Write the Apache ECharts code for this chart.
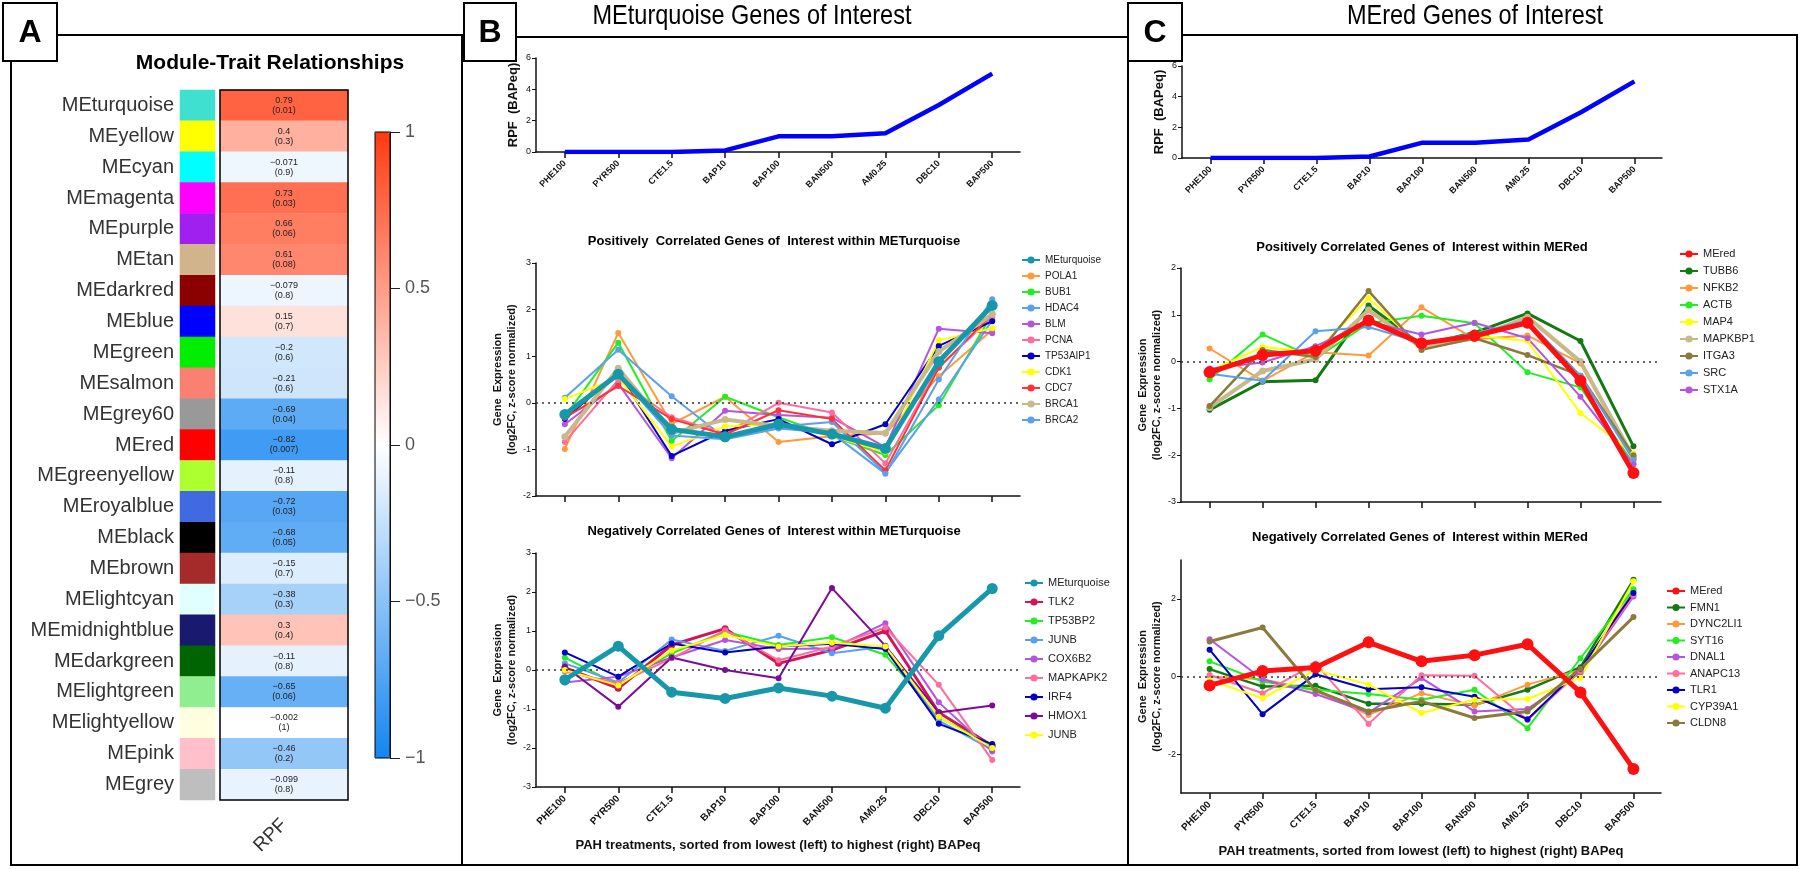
<!DOCTYPE html>
<html><head><meta charset="utf-8">
<script src="https://cdn.jsdelivr.net/npm/echarts@6/dist/echarts.min.js"></script>
<style>html,body{margin:0;padding:0;background:#fff;}#c{width:1800px;height:869px;}</style>
</head><body><div id="c"></div>
<script>
// ---------- DATA ----------
const treatments = ['PHE100','PYR500','CTE1.5','BAP10','BAP100','BAN500','AM0.25','DBC10','BAP500'];
const rpfBAPeq = [0, 0, 0, 0.1, 1, 1, 1.2, 3, 5];

const modules = ['MEturquoise','MEyellow','MEcyan','MEmagenta','MEpurple','MEtan','MEdarkred','MEblue','MEgreen','MEsalmon','MEgrey60','MEred','MEgreenyellow','MEroyalblue','MEblack','MEbrown','MElightcyan','MEmidnightblue','MEdarkgreen','MElightgreen','MElightyellow','MEpink','MEgrey'];
const moduleColors = ['#40E0D0','#FFFF00','#00FFFF','#FF00FF','#A020F0','#D2B48C','#8B0000','#0000FF','#00EE00','#FA8072','#999999','#FF0000','#ADFF2F','#4169E1','#000000','#A52A2A','#E0FFFF','#191970','#006400','#90EE90','#FFFFE0','#FFC0CB','#BEBEBE'];
const moduleCorr = [0.79,0.4,-0.071,0.73,0.66,0.61,-0.079,0.15,-0.2,-0.21,-0.69,-0.82,-0.11,-0.72,-0.68,-0.15,-0.38,0.3,-0.11,-0.65,-0.002,-0.46,-0.099];
const modulePval = ['0.01','0.3','0.9','0.03','0.06','0.08','0.8','0.7','0.6','0.6','0.04','0.007','0.8','0.03','0.05','0.7','0.3','0.4','0.8','0.06','1','0.2','0.8'];
const colorbarTicks = [-1, -0.5, 0, 0.5, 1];

// MEturquoise positively correlated genes
const meTurquoise = [-0.25, 0.61, -0.57, -0.73, -0.46, -0.67, -0.98, 0.88, 2.09];
const POLA1    = [-0.99, 1.50, -0.45, 0.13, -0.84, -0.72, -0.66, 0.57, 1.56];
const BUB1     = [-0.30, 1.29, -0.82, 0.13, -0.31, -0.72, -1.12, -0.05, 1.91];
const HDAC4    = [0.11, 1.14, 0.14, -0.76, -0.51, -0.41, -1.50, 0.07, 1.77];
const BLM      = [-0.46, 0.41, -1.19, -0.17, -0.26, -0.32, -0.95, 1.59, 1.49];
const PCNA     = [-0.84, 0.49, -0.31, -0.66, 0.00, -0.21, -1.30, 0.77, 1.84];
const TP53AIP1 = [-0.35, 0.65, -1.14, -0.60, -0.35, -0.89, -0.46, 1.22, 1.75];
const CDK1     = [0.08, 0.55, -0.94, -0.51, -0.45, -0.72, -1.05, 1.34, 1.60];
const CDC7     = [-0.32, 0.36, -0.35, -0.68, -0.16, -0.35, -1.45, 0.75, 1.90];
const BRCA1    = [-0.73, 0.74, -0.65, -0.36, -0.50, -0.60, -0.65, 1.10, 1.90];
const BRCA2    = [-0.28, 0.60, -0.70, -0.78, -0.55, -0.65, -1.52, 0.50, 2.22];

// MEturquoise negatively correlated genes
const TLK2     = [0.06, -0.47, 0.64, 1.06, 0.17, 0.51, 1.00, -1.09, -1.94];
const TP53BP2  = [0.32, -0.38, 0.43, 0.98, 0.64, 0.84, 0.39, -1.21, -1.95];
const JUNB_a   = [0.17, -0.32, 0.78, 0.49, 0.88, 0.43, 0.60, -1.30, -2.05];
const COX6B2   = [-0.32, -0.17, 0.32, 0.77, 0.54, 0.55, 1.20, -0.83, -2.09];
const MAPKAPK2 = [-0.04, -0.34, 0.30, 1.02, 0.25, 0.60, 1.09, -0.38, -2.31];
const IRF4     = [0.45, -0.17, 0.68, 0.45, 0.60, 0.67, 0.54, -1.38, -1.90];
const HMOX1    = [0.09, -0.94, 0.32, 0.00, -0.21, 2.10, 0.62, -1.09, -0.91];
const JUNB_b   = [0.00, -0.40, 0.50, 0.90, 0.60, 0.70, 0.60, -1.20, -2.00];

// MEred positively correlated genes
const meRed    = [-0.23, 0.14, 0.23, 0.88, 0.39, 0.55, 0.83, -0.41, -2.38];
const TUBB6    = [-1.03, -0.43, -0.40, 1.20, 0.35, 0.62, 1.03, 0.44, -1.81];
const NFKB2    = [0.28, -0.41, 0.20, 0.13, 1.16, 0.48, 0.56, -0.04, -2.10];
const ACTB     = [-0.38, 0.58, 0.07, 0.82, 0.98, 0.82, -0.23, -0.55, -2.18];
const MAP4     = [-0.20, 0.31, 0.20, 1.36, 0.30, 0.55, 0.44, -1.10, -1.97];
const MAPKBP1  = [-0.98, -0.20, 0.05, 1.10, 0.30, 0.50, 0.95, 0.00, -2.05];
const ITGA3    = [-0.95, 0.25, 0.10, 1.51, 0.25, 0.50, 0.14, -0.30, -2.00];
const SRC      = [-0.26, -0.41, 0.65, 0.74, 0.40, 0.60, 0.88, -0.30, -2.10];
const STX1A    = [-0.15, -0.02, 0.33, 0.85, 0.58, 0.83, 0.50, -0.75, -2.20];

// MEred negatively correlated genes
const FMN1     = [0.19, -0.26, -0.24, -0.70, -0.70, -0.73, -0.34, 0.24, 2.49];
const DYNC2LI1 = [0.00, -0.07, -0.36, -0.99, -0.43, -0.75, -0.21, 0.17, 2.20];
const SYT16    = [0.39, -0.13, -0.34, -0.45, -0.60, -0.34, -1.33, 0.47, 2.25];
const DNAL1    = [0.96, -0.07, -0.45, -0.93, -0.04, -0.90, -0.84, 0.10, 2.06];
const ANAPC13  = [0.04, -0.43, 0.33, -1.22, 0.03, 0.02, -1.12, 0.15, 2.10];
const TLR1     = [0.69, -0.97, 0.06, -0.33, -0.28, -0.52, -1.10, 0.20, 2.15];
const CYP39A1  = [-0.10, -0.56, 0.17, -0.21, -0.94, -0.60, -0.58, -0.03, 2.45];
const CLDN8    = [0.90, 1.26, -0.36, -0.90, -0.64, -1.07, -0.90, 0.20, 1.53];

// ---------- STYLE / BUILD ----------
const FONT = '"Liberation Sans", Arial, sans-serif';
const MINUS = '\u2212';
const fmt = v => (v < 0 ? MINUS : '') + String(Math.abs(v));
const XMIN = -0.54, XMAX = 8.52;
const idx = treatments.map((_, i) => i);
const C = {teal:'#1798AA', orange:'#FF9A3C', green:'#22EE22', lblue:'#5AA0F0', purple:'#B455E0', pink:'#FF6E9A', navy:'#0000C8', yellow:'#FFFF00', red:'#FF3333', tan:'#C8B98A', crimson:'#D4145A', dpurple:'#7B0C99', dgreen:'#137A13', olive:'#8C7A3C', mered:'#FF1010'};

const grids = [], xAxes = [], yAxes = [], series = [], legends = [], titles = [], graphics = [];

function axesFor(gi, o) {
  xAxes.push({
    gridIndex: gi, type: 'value', min: XMIN, max: XMAX, splitLine: {show: false},
    axisLine: {show: true, onZero: false, lineStyle: {color: '#111', width: 1.5}},
    axisTick: {show: true, customValues: idx, length: 6, lineStyle: {color: '#111', width: 1.5}},
    axisLabel: {show: !!o.xLabels, customValues: idx, formatter: v => treatments[Math.round(v)] || '', rotate: 45,
      fontSize: o.xFont || 9, fontWeight: 'bold', color: '#111', fontFamily: FONT, margin: 10},
    name: o.xName || '', nameLocation: 'middle', nameGap: o.xNameGap || 0,
    nameTextStyle: {fontSize: 13, fontWeight: 'bold', color: '#111', fontFamily: FONT}
  });
  yAxes.push({
    gridIndex: gi, type: 'value', min: o.ymin, max: o.ymax, interval: o.interval, splitLine: {show: false},
    axisLine: {show: true, onZero: false, lineStyle: {color: '#111', width: 1.5}},
    axisTick: {show: true, length: 4, lineStyle: {color: '#111', width: 1}, customValues: o.yTicks},
    axisLabel: {fontSize: 9, color: '#111', margin: 5, fontFamily: FONT, customValues: o.yTicks},
    name: o.yName, nameLocation: 'middle', nameRotate: 90, nameGap: o.yNameGap,
    nameTextStyle: {fontSize: o.yNameSize, fontWeight: 'bold', color: '#111', lineHeight: 14, fontFamily: FONT}
  });
}

function lineSeries(gi, name, data, color, width, size, z, extra) {
  const s = {
    type: 'line', name: name, xAxisIndex: gi, yAxisIndex: gi,
    data: data.map((v, i) => [i, v]),
    symbol: 'circle', symbolSize: size, showSymbol: true,
    lineStyle: {color: color, width: width}, itemStyle: {color: color},
    z: z, silent: true, animation: false, emphasis: {disabled: true}
  };
  return Object.assign(s, extra || {});
}
const zeroLine = {markLine: {silent: true, symbol: ['none', 'none'], label: {show: false}, animation: false,
  lineStyle: {type: [2, 4], color: '#333', width: 1.5}, data: [{yAxis: 0}]}};

// ---------- Panel A heatmap ----------
grids.push({left: 180, top: 90, width: 35, height: 710});              // 0 swatches
xAxes.push({gridIndex: 0, type: 'category', data: ['m'], show: false});
yAxes.push({gridIndex: 0, type: 'category', data: modules, inverse: true,
  axisLine: {show: false}, axisTick: {show: false},
  axisLabel: {fontSize: 20, color: '#333', margin: 6, fontFamily: FONT}});
series.push({type: 'heatmap', xAxisIndex: 0, yAxisIndex: 0, silent: true, animation: false,
  data: modules.map((m, i) => ({value: [0, i, 0], itemStyle: {color: moduleColors[i]}}))});

grids.push({left: 220, top: 90, width: 128, height: 710});             // 1 correlation
xAxes.push({gridIndex: 1, type: 'category', data: ['RPF'], axisLine: {show: false}, axisTick: {show: false},
  axisLabel: {rotate: 45, fontSize: 19, color: '#333', margin: 22, fontFamily: FONT}});
yAxes.push({gridIndex: 1, type: 'category', data: modules, inverse: true, show: false});
const heatIndex = series.length;
series.push({type: 'heatmap', xAxisIndex: 1, yAxisIndex: 1, silent: true, animation: false,
  data: moduleCorr.map((v, i) => [0, i, v]),
  label: {show: true, fontSize: 9, lineHeight: 10, color: '#222', fontFamily: FONT,
    formatter: p => fmt(moduleCorr[p.data[1]]) + '\n(' + modulePval[p.data[1]] + ')'}});

grids.push({left: 375, top: 132, width: 15, height: 626});             // 2 colorbar axis
xAxes.push({gridIndex: 2, type: 'category', data: ['c'], show: false});
yAxes.push({gridIndex: 2, type: 'value', position: 'right', min: -1, max: 1, interval: 0.5, splitLine: {show: false},
  axisLine: {show: true, lineStyle: {color: '#222', width: 1}},
  axisTick: {show: true, length: 10, lineStyle: {color: '#222', width: 1}},
  axisLabel: {fontSize: 18, color: '#555', margin: 15, fontFamily: FONT, formatter: v => fmt(v)}});
series.push({type: 'line', xAxisIndex: 2, yAxisIndex: 2, data: [], silent: true});

// ---------- Panel B ----------
grids.push({left: 536, top: 58, width: 484, height: 94});             // 3 B top
axesFor(3, {ymin: 0, ymax: 6, interval: 2, xLabels: true, xFont: 9, yName: 'RPF  (BAPeq)', yNameGap: 16, yNameSize: 13});
series.push(lineSeries(3, 'bt|RPF', rpfBAPeq, '#0000FF', 4.5, 0, 3, {showSymbol: false, symbol: 'none'}));

const GE = 'Gene  Expression\n(log2FC, z-score normalized)';
grids.push({left: 536, top: 263, width: 484, height: 233});           // 4 B pos
axesFor(4, {ymin: -2, ymax: 3, interval: 1, xLabels: false, yName: GE, yNameGap: 16, yNameSize: 11});
const bPos = [
  ['POLA1', POLA1, C.orange, 2, 6], ['BUB1', BUB1, C.green, 2, 6], ['HDAC4', HDAC4, C.lblue, 2, 6],
  ['BLM', BLM, C.purple, 2, 6], ['PCNA', PCNA, C.pink, 2, 6], ['TP53AIP1', TP53AIP1, C.navy, 2, 6],
  ['CDK1', CDK1, C.yellow, 2, 6], ['CDC7', CDC7, C.red, 2, 6], ['BRCA1', BRCA1, C.tan, 4, 7], ['BRCA2', BRCA2, C.lblue, 2, 6]];
bPos.forEach((g, k) => series.push(lineSeries(4, 'bp|' + g[0], g[1], g[2], g[3], g[4], 3, k === 0 ? zeroLine : null)));
series.push(lineSeries(4, 'bp|MEturquoise', meTurquoise, C.teal, 5, 11, 5));

grids.push({left: 536, top: 553, width: 484, height: 234});           // 5 B neg
axesFor(5, {ymin: -3, ymax: 3, interval: 1, xLabels: true, xFont: 10, yName: GE, yNameGap: 16, yNameSize: 11,
  xName: 'PAH treatments, sorted from lowest (left) to highest (right) BAPeq', xNameGap: 52});
const bNeg = [
  ['TLK2', TLK2, C.crimson, 3, 7], ['TP53BP2', TP53BP2, C.green, 2, 6], ['JUNB', JUNB_a, C.lblue, 2, 6],
  ['COX6B2', COX6B2, C.purple, 2, 6], ['MAPKAPK2', MAPKAPK2, C.pink, 2, 6], ['IRF4', IRF4, C.navy, 2, 6],
  ['HMOX1', HMOX1, C.dpurple, 2, 6], ['JUNB#2', JUNB_b, C.yellow, 2, 6]];
bNeg.forEach((g, k) => series.push(lineSeries(5, 'bn|' + g[0], g[1], g[2], g[3], g[4], 3, k === 0 ? zeroLine : null)));
series.push(lineSeries(5, 'bn|MEturquoise', meTurquoise, C.teal, 5, 11, 5));

// ---------- Panel C ----------
grids.push({left: 1182, top: 66, width: 480, height: 92});            // 6 C top
axesFor(6, {ymin: 0, ymax: 6, interval: 2, xLabels: true, xFont: 9, yName: 'RPF  (BAPeq)', yNameGap: 16, yNameSize: 13});
series.push(lineSeries(6, 'ct|RPF', rpfBAPeq, '#0000FF', 4.5, 0, 3, {showSymbol: false, symbol: 'none'}));

grids.push({left: 1181, top: 268, width: 480, height: 234});          // 7 C pos
axesFor(7, {ymin: -3, ymax: 2, interval: 1, xLabels: false, yName: GE, yNameGap: 16, yNameSize: 11});
const cPos = [
  ['TUBB6', TUBB6, C.dgreen, 3, 6], ['NFKB2', NFKB2, C.orange, 2, 6], ['ACTB', ACTB, C.green, 2, 6],
  ['MAP4', MAP4, C.yellow, 2, 6], ['MAPKBP1', MAPKBP1, C.tan, 4, 7], ['ITGA3', ITGA3, C.olive, 2.5, 6],
  ['SRC', SRC, C.lblue, 2, 6], ['STX1A', STX1A, C.purple, 2, 6]];
cPos.forEach((g, k) => series.push(lineSeries(7, 'cp|' + g[0], g[1], g[2], g[3], g[4], 3, k === 0 ? zeroLine : null)));
series.push(lineSeries(7, 'cp|MEred', meRed, C.mered, 5, 12, 5));

grids.push({left: 1181, top: 560, width: 480, height: 233});          // 8 C neg
axesFor(8, {ymin: -3, ymax: 3, yTicks: [-2, 0, 2], xLabels: true, xFont: 10, yName: GE, yNameGap: 16, yNameSize: 11,
  xName: 'PAH treatments, sorted from lowest (left) to highest (right) BAPeq', xNameGap: 52});
const cNeg = [
  ['FMN1', FMN1, C.dgreen, 2.5, 6], ['DYNC2LI1', DYNC2LI1, C.orange, 2, 6], ['SYT16', SYT16, C.green, 2, 6],
  ['DNAL1', DNAL1, C.purple, 2, 6], ['ANAPC13', ANAPC13, C.pink, 2, 6], ['TLR1', TLR1, C.navy, 2, 6],
  ['CYP39A1', CYP39A1, C.yellow, 2, 6], ['CLDN8', CLDN8, C.olive, 3, 6]];
cNeg.forEach((g, k) => series.push(lineSeries(8, 'cn|' + g[0], g[1], g[2], g[3], g[4], 3, k === 0 ? zeroLine : null)));
series.push(lineSeries(8, 'cn|MEred', meRed, C.mered, 5, 12, 5));

// ---------- Legends ----------
function legend(prefix, me, list, left, top, gap, fs) {
  legends.push({
    orient: 'vertical', left: left, top: top, itemWidth: 18, itemHeight: 9, itemGap: gap, padding: 0,
    selectedMode: false, data: [prefix + me].concat(list.map(g => prefix + g[0])),
    formatter: n => n.split('|')[1].replace(/#\d$/, ''),
    textStyle: {fontSize: fs, color: '#222', fontFamily: FONT, lineHeight: 12, padding: [0, 0, 0, 0]}
  });
}
legend('bp|', 'MEturquoise', bPos, 1021, 254, 4, 10);
legend('bn|', 'MEturquoise', bNeg, 1024, 577, 7, 11);
legend('cp|', 'MEred', cPos, 1679, 248, 5, 11);
legend('cn|', 'MEred', cNeg, 1666, 585, 4.5, 11);

// ---------- Titles ----------
function ttl(text, x, y, size, weight) {
  titles.push({text: text, left: x, top: y, textAlign: 'center', padding: 0,
    textStyle: {fontSize: size, fontWeight: weight, color: '#000', fontFamily: FONT}});
}
ttl('Module-Trait Relationships', 270, 53, 21, 'bold');
ttl('Positively  Correlated Genes of  Interest within METurquoise', 774, 235, 13, 'bold');
ttl('Negatively Correlated Genes of  Interest within METurquoise', 774, 525, 13, 'bold');
ttl('Positively Correlated Genes of  Interest within MERed', 1422, 241, 13, 'bold');
ttl('Negatively Correlated Genes of  Interest within MERed', 1420, 531, 13, 'bold');
// panel headings: narrow sans, drawn as real text with horizontal condensing
[['MEturquoise Genes of Interest', 752], ['MEred Genes of Interest', 1475]].forEach(h => {
  graphics.push({type: 'text', x: h[1], y: 16, scaleX: 0.84, z: 5, silent: true,
    style: {text: h[0], x: 0, y: 0, align: 'center', verticalAlign: 'middle', font: '28px "Liberation Sans", Arial', fill: '#000'}});
});

// ---------- Frames and panel letters ----------
const frame = (x, y, w, h, lw, fill, z) => ({type: 'rect', z: z || 10, silent: true,
  shape: {x: x, y: y, width: w, height: h}, style: {fill: fill || 'none', stroke: '#000', lineWidth: lw}});
graphics.push(frame(11, 35, 451, 830, 2));
graphics.push(frame(462, 37, 666, 828, 2));
graphics.push(frame(1128, 35, 669, 830, 2));
graphics.push(frame(220, 90, 128, 710, 1.5));
graphics.push(frame(375, 132, 15, 626, 1));
[['A', 3, 54], ['B', 464, 52], ['C', 1128, 54]].forEach(b => {
  graphics.push(frame(b[1], 3, b[2], 58, 2, '#fff', 20));
  graphics.push({type: 'text', z: 21, silent: true, style: {text: b[0], x: b[1] + b[2] / 2, y: 33,
    align: 'center', verticalAlign: 'middle', font: 'bold 32px "Liberation Sans", Arial', fill: '#000'}});
});

const chart = echarts.init(document.getElementById('c'), null, {renderer: 'canvas'});
chart.setOption({
  animation: false, backgroundColor: '#fff',
  textStyle: {fontFamily: FONT},
  title: titles, grid: grids, xAxis: xAxes, yAxis: yAxes, legend: legends, series: series,
  visualMap: [{type: 'continuous', seriesIndex: heatIndex, min: -1, max: 1, calculable: false,
    left: 375, top: 132, itemWidth: 15, itemHeight: 626, padding: 0, text: null, showLabel: false,
    inRange: {color: ['#1585F0', '#FFFFFF', '#FF3A10']}}],
  graphic: graphics
});
</script></body></html>
